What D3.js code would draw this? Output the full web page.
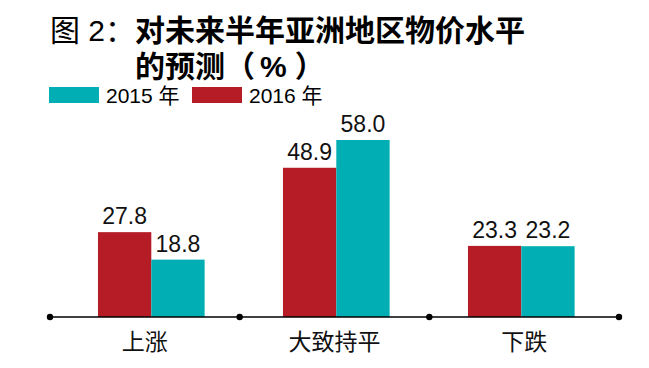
<!DOCTYPE html>
<html><head><meta charset="utf-8">
<script src="https://cdn.jsdelivr.net/npm/d3@7"></script>
<style>
html,body{margin:0;padding:0;background:#fff;}
svg{display:block;font-family:"Liberation Sans","Noto Sans CJK SC",sans-serif;text-spacing-trim:space-all;}
</style></head>
<body><svg id="chart" width="649" height="368"></svg>
<script>
const categories = ["上涨", "大致持平", "下跌"];
const seriesNames = ["2016 年", "2015 年"];
const values2016 = [27.8, 48.9, 23.3];
const values2015 = [18.8, 58.0, 23.2];
const legendOrder = ["2015 年", "2016 年"];
const colors = {"2016 年": "#B51C25", "2015 年": "#00AEB3"};

const svg = d3.select("#chart");

// Title
const t1 = svg.append("text").attr("x", 50).attr("y", 41).attr("font-size", 30).attr("fill", "#000");
t1.append("tspan").attr("font-weight", "normal").text("图 2：");
t1.append("tspan").attr("font-weight", "bold").text("对未来半年亚洲地区物价水平");
const t2 = svg.append("text").attr("x", 135).attr("y", 77).attr("font-size", 30).attr("font-weight", "bold");
t2.append("tspan").text("的预测（");
t2.append("tspan").attr("dx", 5).text("%");
t2.append("tspan").attr("dx", 8).text("）");

// Legend
const legendX = d3.scaleOrdinal().domain(legendOrder).range([49, 192]);
const lg = svg.append("g").selectAll("g").data(legendOrder).join("g")
  .attr("transform", d => `translate(${legendX(d)},87)`);
lg.append("rect").attr("width", 50).attr("height", 16).attr("fill", d => colors[d]);
lg.append("text").attr("x", 57).attr("y", 16).attr("font-size", 21).text(d => d);

// Scales
const y = d3.scaleLinear().domain([0, 58]).range([317, 140]);
const xGroup = d3.scaleBand().domain(categories).range([58.8, 613.8]).paddingInner(0.4235).paddingOuter(0.21175);
const xSeries = d3.scaleBand().domain(seriesNames).range([0, xGroup.bandwidth()]);
const xAxis = d3.scaleBand().domain(categories).range([50, 619]);

const data = categories.map((c, i) => ({cat: c, vals: [
  {s: "2016 年", v: values2016[i]}, {s: "2015 年", v: values2015[i]}]}));

const groups = svg.append("g").selectAll("g").data(data).join("g")
  .attr("transform", d => `translate(${xGroup(d.cat)},0)`);
groups.selectAll("rect").data(d => d.vals).join("rect")
  .attr("x", d => xSeries(d.s)).attr("width", xSeries.bandwidth())
  .attr("y", d => y(d.v)).attr("height", d => y(0) - y(d.v))
  .attr("fill", d => colors[d.s]);
groups.selectAll("text").data(d => d.vals).join("text")
  .attr("x", d => xSeries(d.s) + xSeries.bandwidth() / 2)
  .attr("y", d => y(d.v) - 8)
  .attr("text-anchor", "middle").attr("font-size", 23).attr("fill", "#111")
  .text(d => d.v.toFixed(1));

// Axis line
svg.append("line").attr("x1", xAxis.range()[0]).attr("x2", xAxis.range()[1])
  .attr("y1", y(0)).attr("y2", y(0)).attr("stroke", "#000").attr("stroke-width", 1.5);
const ticks = categories.map(c => xAxis(c)).concat([xAxis.range()[1]]);
svg.append("g").selectAll("circle").data(ticks).join("circle")
  .attr("cx", d => d).attr("cy", y(0)).attr("r", 3.2).attr("fill", "#000");
svg.append("g").selectAll("text").data(categories).join("text")
  .attr("x", d => xAxis(d) + xAxis.bandwidth() / 2).attr("y", 350)
  .attr("text-anchor", "middle").attr("font-size", 23).attr("fill", "#111")
  .text(d => d);
</script></body></html>
